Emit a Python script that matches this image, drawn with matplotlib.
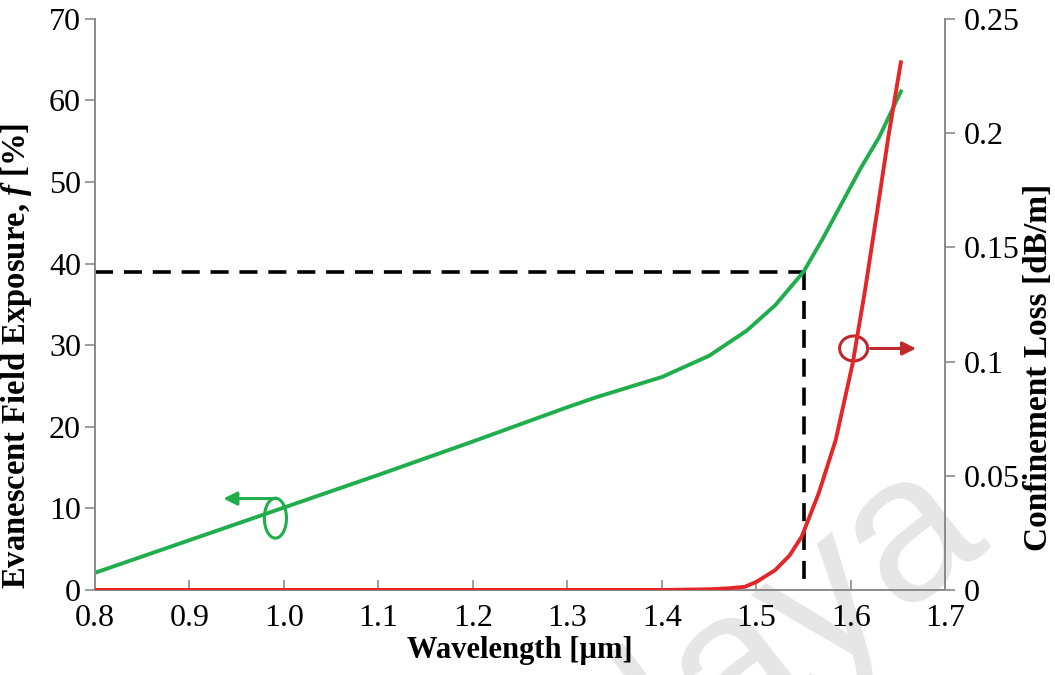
import matplotlib.pyplot as plt
from matplotlib.patches import Ellipse

# ----------------------------- Datos ----------------------------------------
wl_green = [0.80, 0.90, 1.00, 1.10, 1.20, 1.30, 1.33, 1.40, 1.45, 1.49, 1.52, 1.55, 1.57, 1.59, 1.61, 1.63, 1.653]
exposure = [2.1, 6.1, 10.1, 14.1, 18.2, 22.4, 23.6, 26.1, 28.7, 31.8, 34.9, 39.0, 43.0, 47.3, 51.6, 55.5, 61.1]

wl_red = [0.80, 1.00, 1.20, 1.40, 1.45, 1.47, 1.488, 1.50, 1.52, 1.535, 1.548, 1.566, 1.584, 1.602, 1.615, 1.628, 1.64, 1.653]
loss = [0.0, 0.0, 0.0, 0.0, 0.0003, 0.0007, 0.0014, 0.0035, 0.0087, 0.015, 0.0233, 0.0423, 0.0656, 0.0992, 0.131, 0.166, 0.199, 0.231]

x_ref = 1.55
f_ref = 39.0

xticks = [0.8, 0.9, 1.0, 1.1, 1.2, 1.3, 1.4, 1.5, 1.6, 1.7]
xticklabels = ["0.8", "0.9", "1.0", "1.1", "1.2", "1.3", "1.4", "1.5", "1.6", "1.7"]
yticks_l = [0, 10, 20, 30, 40, 50, 60, 70]
yticks_r = [0, 0.05, 0.1, 0.15, 0.2, 0.25]
yticklabels_r = ["0", "0.05", "0.1", "0.15", "0.2", "0.25"]

GREEN = "#1fae4b"
RED = "#e52629"
DARKRED = "#c0282e"
GRIS = "#8c8c8c"

plt.rcParams.update({
    "font.family": "Liberation Serif",
    "font.size": 23,
    "mathtext.fontset": "custom",
    "mathtext.it": "Liberation Serif:italic:bold",
    "mathtext.rm": "Liberation Serif:bold",
})

fig = plt.figure(figsize=(10.55, 6.75), dpi=100)
ax = fig.add_axes([0.090, 0.126, 0.806, 0.846])
ax2 = ax.twinx()

# Marca de agua
fig.text(0.938, 0.207, "Malaya", fontsize=150, color="#e6e6e6", rotation=38,
         ha="right", va="baseline", rotation_mode="anchor",
         family="Liberation Sans", zorder=-1)
ax.patch.set_alpha(0)
ax2.patch.set_alpha(0)

ax.plot(wl_green, exposure, color=GREEN, lw=2.8, zorder=3)
ax2.plot(wl_red, loss, color=RED, lw=2.8, zorder=3)

# Líneas de referencia
ax.plot([0.8, x_ref], [f_ref, f_ref], color="black", lw=2.6, ls=(0, (5, 3)), zorder=2)
ax.plot([x_ref, x_ref], [f_ref, 0], color="black", lw=2.6, ls=(0, (5, 3)), zorder=2)

# Indicadores de eje
ax.add_patch(Ellipse((0.991, 8.8), 0.0234, 4.9, fill=False, ec=GREEN, lw=2.2, zorder=4))
ax.annotate("", xy=(0.933, 11.2), xytext=(0.995, 11.2),
            arrowprops=dict(arrowstyle="-|>", color=GREEN, lw=2.2, mutation_scale=20))
ax.add_patch(Ellipse((1.603, 29.6), 0.0297, 3.06, fill=False, ec=DARKRED, lw=2.2, zorder=4))
ax.annotate("", xy=(1.672, 29.6), xytext=(1.618, 29.6),
            arrowprops=dict(arrowstyle="-|>", color=DARKRED, lw=2.2, mutation_scale=20))

ax.set_xlim(0.8, 1.7)
ax.set_ylim(0, 70)
ax2.set_ylim(0, 0.25)
ax.set_xticks(xticks)
ax.set_xticklabels(xticklabels)
ax.set_yticks(yticks_l)
ax2.set_yticks(yticks_r)
ax2.set_yticklabels(yticklabels_r)

for a in (ax, ax2):
    a.spines["top"].set_visible(False)
    for s in ("left", "right", "bottom"):
        a.spines[s].set_color(GRIS)
        a.spines[s].set_linewidth(1.3)
ax.tick_params(axis="x", direction="in", length=7, color=GRIS, width=1.2, pad=10)
ax.tick_params(axis="y", direction="out", length=7, color=GRIS, width=1.2, pad=3)
ax2.tick_params(axis="y", direction="out", length=7, color=GRIS, width=1.2, pad=6)

ax.set_xlabel("Wavelength [µm]", fontsize=22, fontweight="bold", labelpad=2)
ax.set_ylabel("Evanescent Field Exposure, $\\mathit{f}$ [%]", fontsize=23.5, fontweight="bold")
ax2.set_ylabel("Confinement Loss [dB/m]", fontsize=24, fontweight="bold")
ax.yaxis.set_label_coords(-0.072, 0.41)
ax2.yaxis.set_label_coords(1.091, 0.39)

fig.savefig("out.png", dpi=100)
